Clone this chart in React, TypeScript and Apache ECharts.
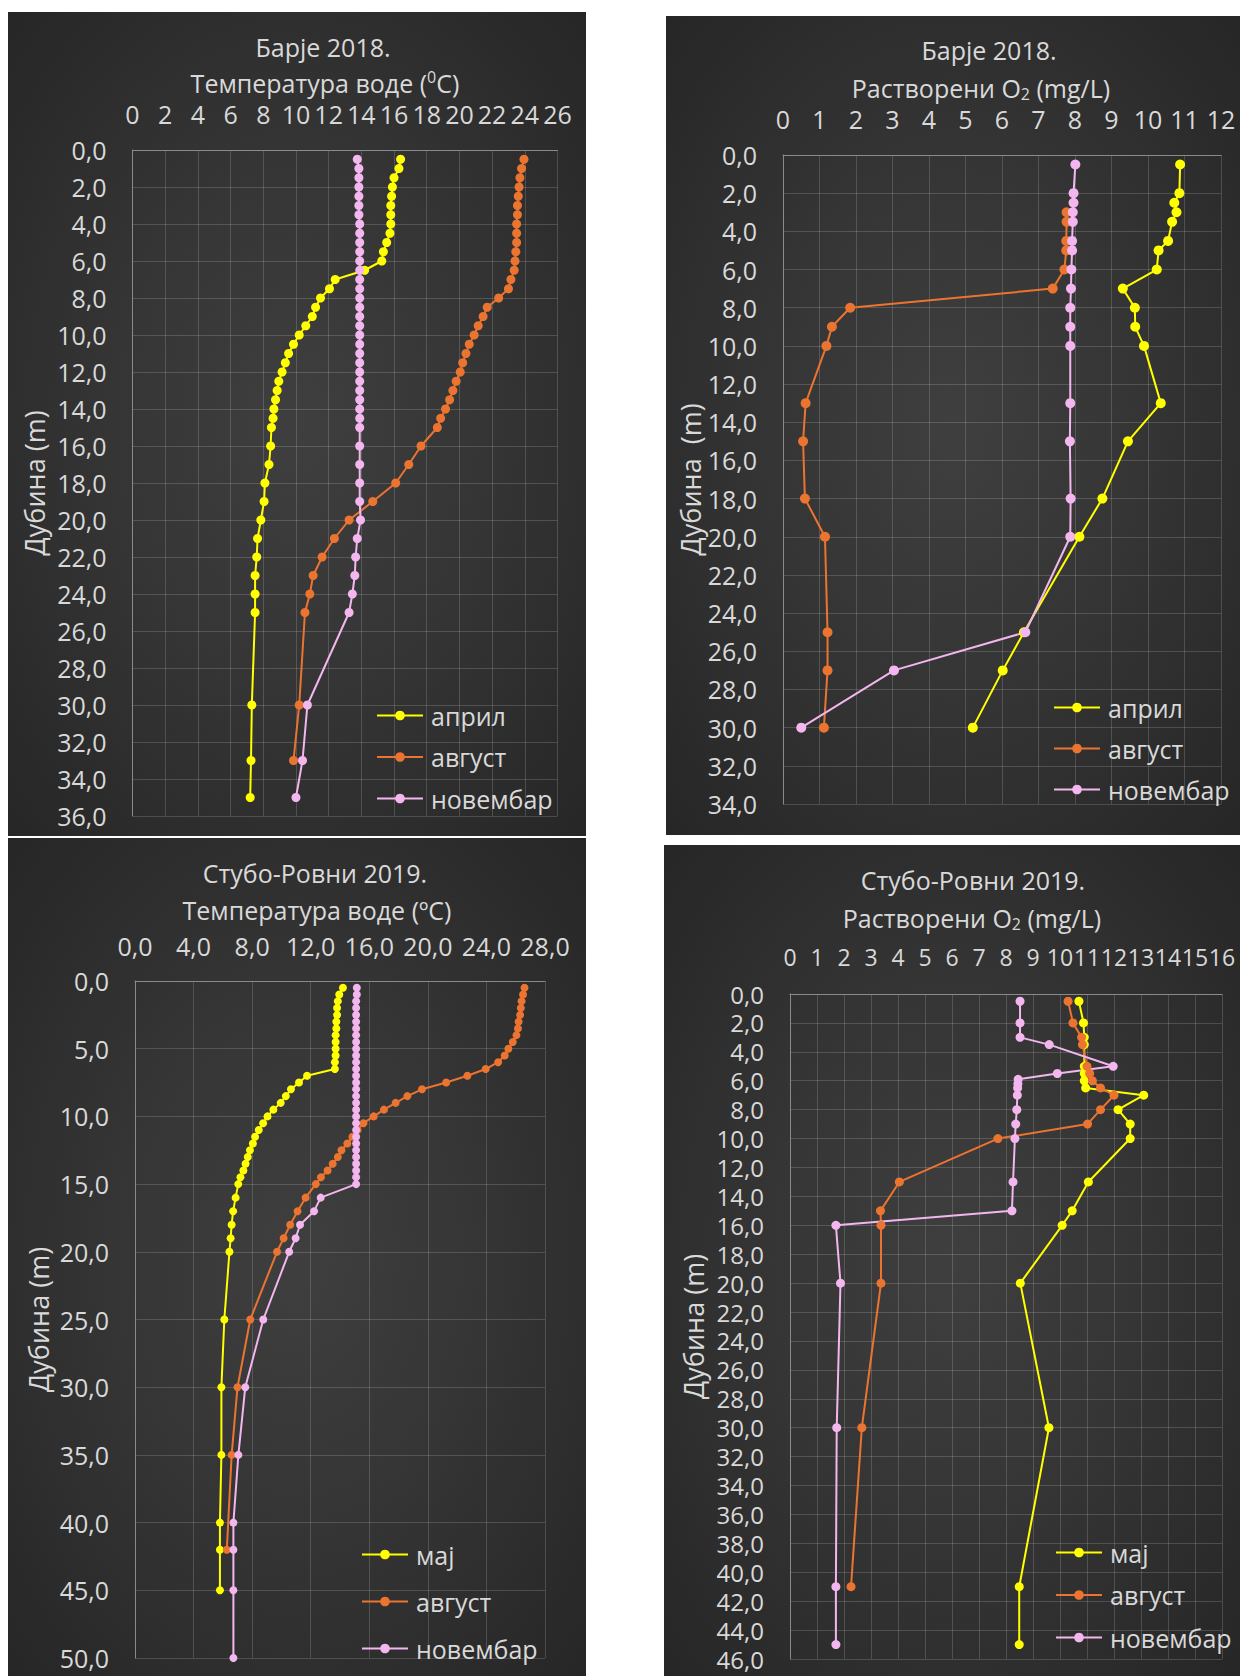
import React, { useEffect, useRef } from "react";
import * as echarts from "echarts";

const FONT = "'Open Sans', 'Noto Sans', sans-serif";
const TXT = "#d9d9d9";
const YELLOW = "#FFFF00";
const ORANGE = "#EB7430";
const PINK = "#F3B6EF";

// ---------- Panel 1: Барје 2018., temperature ----------
const p1Depth = [0.5, 1, 1.5, 2, 2.5, 3, 3.5, 4, 4.5, 5, 5.5, 6, 6.5, 7, 7.5, 8, 8.5, 9, 9.5, 10, 10.5, 11, 11.5, 12, 12.5, 13, 13.5, 14, 14.5, 15, 16, 17, 18, 19, 20, 21, 22, 23, 24, 25, 30, 33, 35];
const p1April = [16.4, 16.3, 16.0, 15.9, 15.85, 15.8, 15.8, 15.8, 15.75, 15.55, 15.35, 15.25, 14.2, 12.4, 12.05, 11.5, 11.2, 11.0, 10.6, 10.2, 9.85, 9.55, 9.35, 9.15, 8.95, 8.85, 8.75, 8.65, 8.6, 8.5, 8.45, 8.35, 8.1, 8.05, 7.85, 7.65, 7.6, 7.5, 7.5, 7.5, 7.3, 7.25, 7.2];
const p1August = [23.95, 23.8, 23.7, 23.65, 23.6, 23.55, 23.55, 23.5, 23.5, 23.5, 23.45, 23.4, 23.35, 23.15, 23.0, 22.4, 21.7, 21.45, 21.15, 20.9, 20.6, 20.4, 20.2, 20.05, 19.8, 19.6, 19.4, 19.15, 18.85, 18.65, 17.65, 16.9, 16.1, 14.7, 13.25, 12.35, 11.6, 11.05, 10.85, 10.55, 10.2, 9.85];
const p1November = [13.75, 13.85, 13.85, 13.85, 13.85, 13.85, 13.85, 13.9, 13.9, 13.9, 13.9, 13.9, 13.9, 13.9, 13.9, 13.9, 13.9, 13.9, 13.9, 13.9, 13.9, 13.9, 13.9, 13.9, 13.9, 13.9, 13.9, 13.9, 13.9, 13.9, 13.9, 13.9, 13.9, 13.9, 13.95, 13.75, 13.65, 13.6, 13.45, 13.25, 10.7, 10.4, 10.0];

// ---------- Panel 2: Барје 2018., dissolved O2 ----------
const p2Depth = [0.5, 2, 2.5, 3, 3.5, 4.5, 5, 6, 7, 8, 9, 10, 13, 15, 18, 20, 25, 27, 30];
const p2April = [10.88, 10.86, 10.72, 10.78, 10.66, 10.55, 10.29, 10.24, 9.31, 9.64, 9.65, 9.89, 10.35, 9.45, 8.75, 8.12, 6.6, 6.02, 5.2];
const p2November = [8.01, 7.96, 7.96, 7.94, 7.94, 7.92, 7.92, 7.9, 7.89, 7.87, 7.87, 7.87, 7.87, 7.86, 7.88, 7.87, 6.64, 3.04, 0.5];
const p2AugDepth = [3, 3.5, 4.5, 5, 6, 7, 8, 9, 10, 13, 15, 18, 20, 25, 27, 30];
const p2August = [7.77, 7.77, 7.76, 7.76, 7.71, 7.39, 1.84, 1.34, 1.19, 0.62, 0.55, 0.6, 1.15, 1.22, 1.22, 1.12];

// ---------- Panel 3: Стубо-Ровни 2019., temperature ----------
const p3Depth = [0.5, 1, 1.5, 2, 2.5, 3, 3.5, 4, 4.5, 5, 5.5, 6, 6.5, 7, 7.5, 8, 8.5, 9, 9.5, 10, 10.5, 11, 11.5, 12, 12.5, 13, 13.5, 14, 14.5, 15, 16, 17, 18, 19, 20, 25, 30, 35, 40, 42, 45, 50];
const p3May = [14.2, 13.95, 13.85, 13.8, 13.8, 13.75, 13.75, 13.7, 13.7, 13.7, 13.7, 13.65, 13.65, 11.75, 11.2, 10.65, 10.3, 9.95, 9.45, 9.05, 8.75, 8.45, 8.2, 8.05, 7.85, 7.7, 7.55, 7.4, 7.2, 7.05, 6.87, 6.7, 6.6, 6.53, 6.45, 6.1, 5.9, 5.9, 5.8, 5.8, 5.8];
const p3AugDepth = [0.5, 1, 1.5, 2, 2.5, 3, 3.5, 4, 4.5, 5, 5.5, 6, 6.5, 7, 7.5, 8, 8.5, 9, 9.5, 10, 10.5, 11, 11.5, 12, 12.5, 13, 13.5, 14, 14.5, 15, 16, 17, 18, 19, 20, 25, 30, 35, 42];
const p3August = [26.6, 26.5, 26.4, 26.35, 26.3, 26.2, 26.15, 26.05, 25.8, 25.5, 25.25, 24.8, 23.95, 22.7, 21.25, 19.6, 18.6, 17.8, 17.0, 16.3, 15.6, 15.2, 14.85, 14.5, 14.1, 13.85, 13.5, 13.15, 12.7, 12.35, 11.65, 11.1, 10.6, 10.15, 9.7, 7.87, 7.0, 6.6, 6.27];
const p3November = [15.15, 15.15, 15.1, 15.1, 15.1, 15.1, 15.1, 15.1, 15.1, 15.1, 15.1, 15.1, 15.1, 15.1, 15.1, 15.1, 15.1, 15.1, 15.1, 15.1, 15.1, 15.1, 15.1, 15.1, 15.1, 15.1, 15.1, 15.1, 15.1, 15.1, 12.68, 12.23, 11.27, 10.97, 10.53, 8.76, 7.53, 7.06, 6.72, 6.72, 6.72, 6.72];

// ---------- Panel 4: Стубо-Ровни 2019., dissolved O2 ----------
const p4MayDepth = [0.5, 2, 3, 3.5, 5, 5.5, 6, 6.5, 7, 8, 9, 10, 13, 15, 16, 20, 30, 41, 45];
const p4May = [10.7, 10.87, 10.9, 10.9, 10.9, 10.9, 10.9, 10.95, 13.1, 12.15, 12.6, 12.6, 11.05, 10.45, 10.08, 8.53, 9.59, 8.49, 8.49];
const p4AugDepth = [0.5, 2, 3, 3.5, 5, 5.5, 6, 6.5, 7, 8, 9, 10, 13, 15, 16, 20, 30, 41];
const p4August = [10.3, 10.48, 10.8, 10.83, 11.0, 11.1, 11.2, 11.5, 12.0, 11.5, 11.02, 7.7, 4.05, 3.35, 3.37, 3.37, 2.66, 2.26];
const p4NovDepth = [0.5, 2, 3, 3.5, 5, 5.5, 5.9, 6.2, 6.5, 7, 8, 9, 10, 13, 15, 16, 20, 30, 41, 45];
const p4November = [8.52, 8.52, 8.52, 9.6, 11.97, 9.9, 8.45, 8.44, 8.43, 8.42, 8.4, 8.36, 8.33, 8.26, 8.22, 1.7, 1.87, 1.73, 1.7, 1.7];

const legend1 = ["април", "август", "новембар"];
const legend2 = ["мај", "август", "новембар"];

// layout
const panels = [
  { x: 8, y: 12, w: 578, h: 824 },
  { x: 666, y: 16, w: 574, h: 819 },
  { x: 8, y: 838, w: 578, h: 838 },
  { x: 664, y: 845, w: 576, h: 831 },
];
const grids = [
  { left: 132.5, top: 150, width: 425, height: 666 },
  { left: 783, top: 155, width: 438, height: 649 },
  { left: 135, top: 981, width: 410, height: 677 },
  { left: 790, top: 994, width: 432, height: 665 },
];

const comma = (v: number) => v.toFixed(1).replace(".", ",");

function xAxis(idx: number, max: number, interval: number, margin: number, fs: number, fmt?: (v: number) => string) {
  return {
    gridIndex: idx,
    type: "value",
    position: "top",
    min: 0,
    max,
    interval,
    axisLine: { show: true, lineStyle: { color: "#8a8a8a", width: 1 } },
    axisTick: { show: false },
    axisLabel: {
      color: TXT,
      fontSize: fs,
      lineHeight: fs,
      fontFamily: FONT,
      margin,
      formatter: fmt,
      showMinLabel: true,
      showMaxLabel: true,
      hideOverlap: false,
    },
    splitLine: { show: true, lineStyle: { color: "rgba(255,255,255,0.16)", width: 1 } },
  };
}

function yAxis(idx: number, max: number, interval: number, name: string, nameGap: number, fs: number) {
  return {
    gridIndex: idx,
    type: "value",
    inverse: true,
    min: 0,
    max,
    interval,
    name,
    nameLocation: "middle",
    nameGap,
    nameRotate: 90,
    nameTextStyle: { color: TXT, fontSize: 27, fontFamily: FONT },
    axisLine: { show: true, onZero: false, lineStyle: { color: "#8a8a8a", width: 1 } },
    axisTick: { show: false },
    axisLabel: {
      color: TXT,
      fontSize: fs,
      lineHeight: fs,
      fontFamily: FONT,
      margin: 26,
      formatter: comma,
      showMinLabel: true,
      showMaxLabel: true,
      hideOverlap: false,
    },
    splitLine: { show: true, lineStyle: { color: "rgba(255,255,255,0.16)", width: 1 } },
  };
}

function series(name: string, color: string, idx: number, depths: number[], values: number[], size: number) {
  return {
    type: "line",
    name,
    xAxisIndex: idx,
    yAxisIndex: idx,
    data: values.map((v, i) => [v, depths[i]]),
    symbol: "circle",
    symbolSize: size,
    showSymbol: true,
    showAllSymbol: true,
    clip: false,
    color,
    lineStyle: { color, width: 2 },
    itemStyle: { color },
    emphasis: { disabled: true },
  };
}

function legend(data: string[], left: number, top: number, gap: number) {
  return {
    data,
    orient: "vertical",
    left,
    top,
    padding: 0,
    itemWidth: 46,
    itemHeight: 12,
    itemGap: gap,
    selectedMode: false,
    textStyle: { color: TXT, fontSize: 25, fontFamily: FONT, padding: [0, 0, 0, 3] },
  };
}

const rich = {
  sup: { fontSize: 16, fontFamily: FONT, fill: TXT, verticalAlign: "top" },
  sub: { fontSize: 16, fontFamily: FONT, fill: TXT, verticalAlign: "bottom" },
};

const titles = [
  { x: 323, y: 47, text: "Барје 2018." },
  { x: 325, y: 83, text: "Температура воде ({sup|0}C)" },
  { x: 989, y: 50, text: "Барје 2018." },
  { x: 981, y: 88, text: "Растворени O{sub|2} (mg/L)" },
  { x: 315, y: 873, text: "Стубо-Ровни 2019." },
  { x: 317, y: 910, text: "Температура воде (ºC)" },
  { x: 973, y: 880, text: "Стубо-Ровни 2019." },
  { x: 972, y: 918, text: "Растворени O{sub|2} (mg/L)" },
];

const option = {
  animation: false,
  backgroundColor: "transparent",
  textStyle: { fontFamily: FONT },
  grid: grids.map((g) => ({ ...g, containLabel: false })),
  xAxis: [
    xAxis(0, 26, 2, 24, 25),
    xAxis(1, 12, 1, 24, 25),
    xAxis(2, 28, 4, 23, 25, comma),
    xAxis(3, 16, 1, 26, 23),
  ],
  yAxis: [
    yAxis(0, 36, 2, "Дубина (m)", 85, 25),
    yAxis(1, 34, 2, "Дубина  (m)", 78, 25),
    yAxis(2, 50, 5, "Дубина (m)", 83, 25),
    yAxis(3, 46, 2, "Дубина (m)", 83, 24),
  ],
  legend: [
    legend(legend1, 376, 703, 16.5),
    legend(legend1, 1053, 695, 16),
    legend(legend2, 361, 1542, 22),
    legend(legend2, 1055, 1540, 17.5),
  ],
  graphic: {
    elements: titles.map((t) => ({
      type: "text",
      x: t.x,
      y: t.y,
      silent: true,
      style: {
        text: t.text,
        fill: TXT,
        fontSize: 25,
        fontFamily: FONT,
        lineHeight: 28,
        textAlign: "center",
        textVerticalAlign: "middle",
        rich,
      },
    })),
  },
  series: [
    series("април", YELLOW, 0, p1Depth, p1April, 9),
    series("август", ORANGE, 0, p1Depth, p1August, 9),
    series("новембар", PINK, 0, p1Depth, p1November, 9),
    series("април", YELLOW, 1, p2Depth, p2April, 10),
    series("август", ORANGE, 1, p2AugDepth, p2August, 10),
    series("новембар", PINK, 1, p2Depth, p2November, 10),
    series("мај", YELLOW, 2, p3Depth, p3May, 8),
    series("август", ORANGE, 2, p3AugDepth, p3August, 8),
    series("новембар", PINK, 2, p3Depth, p3November, 8),
    series("мај", YELLOW, 3, p4MayDepth, p4May, 9),
    series("август", ORANGE, 3, p4AugDepth, p4August, 9),
    series("новембар", PINK, 3, p4NovDepth, p4November, 9),
  ],
};

export default function App() {
  const ref = useRef<HTMLDivElement>(null);
  useEffect(() => {
    if (!ref.current) return;
    const chart = echarts.init(ref.current, null, { renderer: "svg" });
    chart.setOption(option as any);
    return () => chart.dispose();
  }, []);
  return (
    <div style={{ position: "absolute", left: 0, top: 0, width: 1240, height: 1676, background: "#ffffff", overflow: "hidden" }}>
      {panels.map((p, i) => (
        <div
          key={i}
          style={{
            position: "absolute",
            left: p.x,
            top: p.y,
            width: p.w,
            height: p.h,
            background: "radial-gradient(ellipse at 50% 50%, #3f3f3f 0%, #353535 45%, #262626 100%)",
          }}
        />
      ))}
      <div ref={ref} style={{ position: "absolute", left: 0, top: 0, width: 1240, height: 1676 }} />
    </div>
  );
}
